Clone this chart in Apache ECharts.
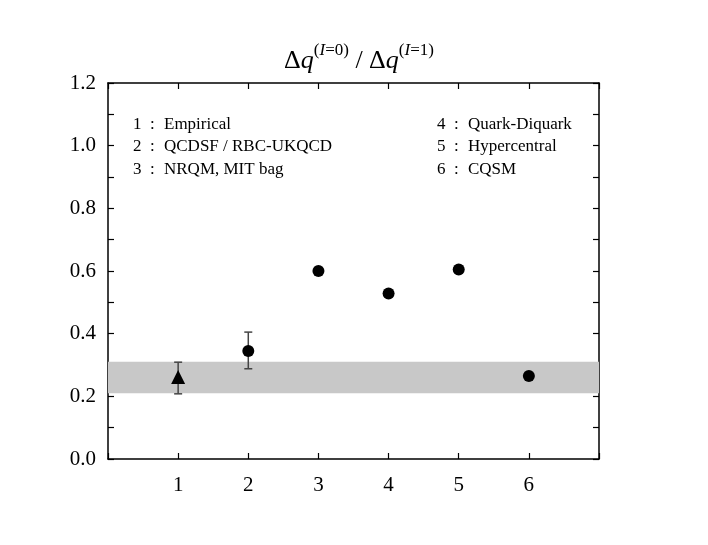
<!DOCTYPE html>
<html>
<head>
<meta charset="utf-8">
<script src="https://cdn.jsdelivr.net/npm/echarts@6/dist/echarts.min.js"></script>
<style>
    html, body { margin: 0; padding: 0; background: #fff; }
    #chart { width: 708px; height: 545px; }
</style>
</head>
<body>
<div id="chart"></div>
<script>
// 数据
var models = ["Empirical", "QCDSF / RBC-UKQCD", "NRQM, MIT bag", "Quark-Diquark", "Hypercentral", "CQSM"];
var xPos = [1, 2, 3, 4, 5, 6];
var ratio = [0.262, 0.345, 0.600, 0.528, 0.605, 0.265];
var errLow = [0.208, 0.288, null, null, null, null];
var errHigh = [0.309, 0.405, null, null, null, null];
var bandRange = [0.21, 0.31];

var font = "'Liberation Serif', 'DejaVu Serif', serif";

var chart = echarts.init(document.getElementById("chart"));

// 三角形 (第1个) 和 圆点 (其余)
var triData = [[xPos[0], ratio[0]]];
var dotData = [];
for (var i = 1; i < xPos.length; i++) {
    dotData.push([xPos[i], ratio[i]]);
}
var errData = [];
for (var j = 0; j < xPos.length; j++) {
    if (errLow[j] != null) errData.push([xPos[j], errLow[j], errHigh[j]]);
}

// 图例文字: 编号和名称分开放
var legendItems = [];
for (var k = 0; k < models.length; k++) {
    var col = k < 3 ? 0 : 1;
    var row = k % 3;
    var x0 = col === 0 ? 133 : 437;
    var y0 = 116 + row * 22.5;
    legendItems.push({
        type: "text",
        left: x0,
        top: y0,
        style: { text: (k + 1) + "  :", font: "17px " + font, fill: "#000" }
    });
    legendItems.push({
        type: "text",
        left: x0 + 31,
        top: y0,
        style: { text: models[k], font: "17px " + font, fill: "#000" }
    });
}

var axisCommon = {
    axisLine: { show: true, onZero: false, lineStyle: { color: "#000", width: 1.5 } },
    axisTick: { show: true, inside: true, length: 6, lineStyle: { color: "#000", width: 1.2 } },
    splitLine: { show: false }
};

var base = { fontFamily: font, color: "#000", fontWeight: "normal", lineHeight: 32 };
var option = {
    animation: false,
    backgroundColor: "#fff",
    title: {
        text: "{d|Δ}{q|q}{s|(}{si|I}{s|=0)}{m| / }{d|Δ}{q|q}{s|(}{si|I}{s|=1)}",
        left: 354,
        top: 37,
        textAlign: "center",
        textStyle: {
            fontWeight: "normal",
            rich: {
                d: Object.assign({}, base, { fontSize: 26, verticalAlign: "bottom" }),
                q: Object.assign({}, base, { fontSize: 26, fontStyle: "italic", verticalAlign: "bottom" }),
                s: Object.assign({}, base, { fontSize: 17, verticalAlign: "top" }),
                si: Object.assign({}, base, { fontSize: 17, fontStyle: "italic", verticalAlign: "top" }),
                m: Object.assign({}, base, { fontSize: 26, verticalAlign: "bottom" })
            }
        }
    },
    grid: { left: 108, right: 109, top: 83, bottom: 86 },
    xAxis: [
        Object.assign({}, axisCommon, {
            type: "value",
            min: 0, max: 7, interval: 1,
            position: "bottom",
            axisLabel: {
                color: "#000", fontFamily: font, fontSize: 21, margin: 16,
                formatter: function (v) { return (v >= 1 && v <= 6) ? String(v) : ""; }
            }
        }),
        Object.assign({}, axisCommon, {
            type: "value",
            min: 0, max: 7, interval: 1,
            position: "top",
            axisLabel: { show: false }
        })
    ],
    yAxis: [
        Object.assign({}, axisCommon, {
            type: "value",
            min: 0, max: 1.2, interval: 0.2,
            position: "left",
            minorTick: { show: true, splitNumber: 2, length: 6, lineStyle: { color: "#000", width: 1.2 } },
            axisLabel: {
                color: "#000", fontFamily: font, fontSize: 21, margin: 12,
                formatter: function (v) { return v.toFixed(1); }
            }
        }),
        Object.assign({}, axisCommon, {
            type: "value",
            min: 0, max: 1.2, interval: 0.2,
            position: "right",
            minorTick: { show: true, splitNumber: 2, length: 6, lineStyle: { color: "#000", width: 1.2 } },
            axisLabel: { show: false }
        })
    ],
    graphic: legendItems,
    series: [
        {
            // 灰色带
            type: "line",
            data: [],
            markArea: {
                silent: true,
                itemStyle: { color: "#c8c8c8" },
                data: [[{ yAxis: bandRange[0] }, { yAxis: bandRange[1] }]]
            },
            z: 1
        },
        {
            // 误差棒
            type: "custom",
            data: errData,
            z: 3,
            renderItem: function (params, api) {
                var x = api.value(0);
                var lo = api.coord([x, api.value(1)]);
                var hi = api.coord([x, api.value(2)]);
                var cap = 4;
                var st = { stroke: "#444", lineWidth: 1.5 };
                return {
                    type: "group",
                    children: [
                        { type: "line", shape: { x1: lo[0], y1: lo[1], x2: hi[0], y2: hi[1] }, style: st },
                        { type: "line", shape: { x1: lo[0] - cap, y1: lo[1], x2: lo[0] + cap, y2: lo[1] }, style: st },
                        { type: "line", shape: { x1: hi[0] - cap, y1: hi[1], x2: hi[0] + cap, y2: hi[1] }, style: st }
                    ]
                };
            }
        },
        {
            type: "scatter",
            data: triData,
            symbol: "triangle",
            symbolSize: 14,
            itemStyle: { color: "#000", opacity: 1 },
            z: 4
        },
        {
            type: "scatter",
            data: dotData,
            symbol: "circle",
            symbolSize: 12,
            itemStyle: { color: "#000", opacity: 1 },
            z: 4
        }
    ]
};

chart.setOption(option);
window.addEventListener("resize", function () {
    chart.resize();
});
</script>
</body>
</html>
